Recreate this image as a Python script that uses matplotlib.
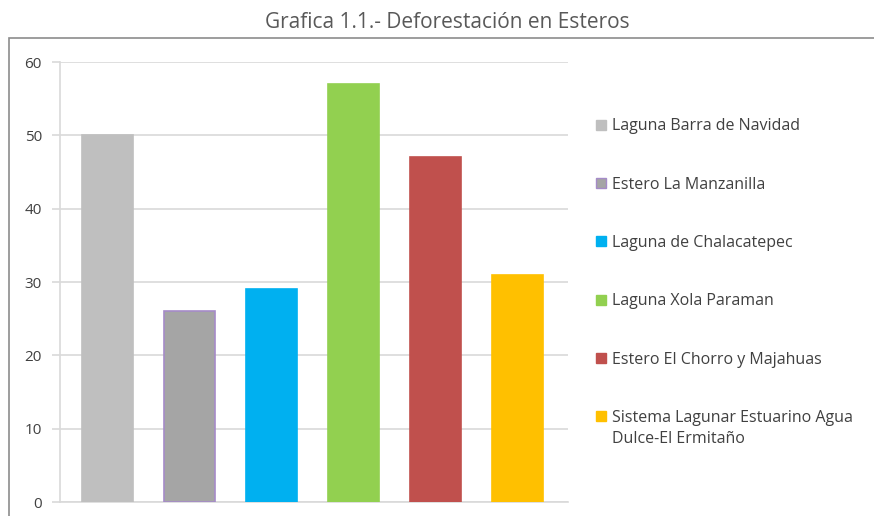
import matplotlib.pyplot as plt
from matplotlib.patches import Rectangle, Patch
from matplotlib.legend_handler import HandlerPatch

# data
esteros = ['Laguna Barra de Navidad', 'Estero La Manzanilla', 'Laguna de Chalacatepec',
           'Laguna Xola Paraman', 'Estero El Chorro y Majahuas',
           'Sistema Lagunar Estuarino Agua\nDulce-El Ermitaño']
deforestacion = [50, 26, 29, 57, 47, 31]
colores = ['#BFBFBF', '#A5A5A5', '#00B0F0', '#92D050', '#C0504D', '#FFC000']
bordes = ['#BFBFBF', '#A58BC8', '#00B0F0', '#92D050', '#C0504D', '#FFC000']
yticks = [0, 10, 20, 30, 40, 50, 60]

plt.rcParams['font.family'] = ['Open Sans', 'DejaVu Sans']

fig = plt.figure(figsize=(8.74, 5.16), dpi=100)
ax = fig.add_axes([60/874, 1-502/516, (568-60)/874, (502-62)/516])

x = range(len(esteros))
ax.bar(x, deforestacion, width=0.62, color=colores, edgecolor=bordes, linewidth=1.2, zorder=3)

ax.set_ylim(0, 60)
ax.set_xlim(-0.58, 5.62)
ax.set_yticks(yticks)
ax.set_xticks([])
ax.grid(axis='y', color='#D9D9D9', linewidth=1.2, zorder=0)
for s in ['top', 'right']:
    ax.spines[s].set_visible(False)
ax.spines['left'].set_color('#D9D9D9')
ax.spines['left'].set_linewidth(1.2)
ax.spines['bottom'].set_color('#D9D9D9')
ax.spines['bottom'].set_linewidth(1.2)
ax.tick_params(axis='y', length=6, width=1.2, color='#D9D9D9', labelcolor='#404040',
               labelsize=11, pad=7)


# el ultimo cuadro va alineado con la primera linea del texto
def cuadro_arriba(legend, orig_handle, xdescent, ydescent, width, height, fontsize):
    return Rectangle((-xdescent, -ydescent + 0.8 * fontsize), width, height)


handles = [Patch(facecolor=c, edgecolor=b, linewidth=1) for c, b in zip(colores, bordes)]
leg = fig.legend(handles, esteros, loc='upper left', bbox_to_anchor=(582/874, 1-104/516),
                 frameon=False, fontsize=11.5, labelspacing=2.65, handlelength=0.6,
                 handleheight=0.6, handletextpad=0.35, labelcolor='#404040',
                 handler_map={handles[5]: HandlerPatch(patch_func=cuadro_arriba)})
leg.get_texts()[5].set_linespacing(1.45)

# marco del grafico
fig.patches.append(Rectangle((9/874, -0.1), 1.0, 1.1-38/516, transform=fig.transFigure,
                             fill=False, edgecolor='#8C8C8C', linewidth=1.2))

fig.text(447/874, 1-22/516, 'Grafica 1.1.- Deforestación en Esteros', ha='center',
         va='center', fontsize=15, color='#595959')

fig.savefig('out.png', dpi=100)
